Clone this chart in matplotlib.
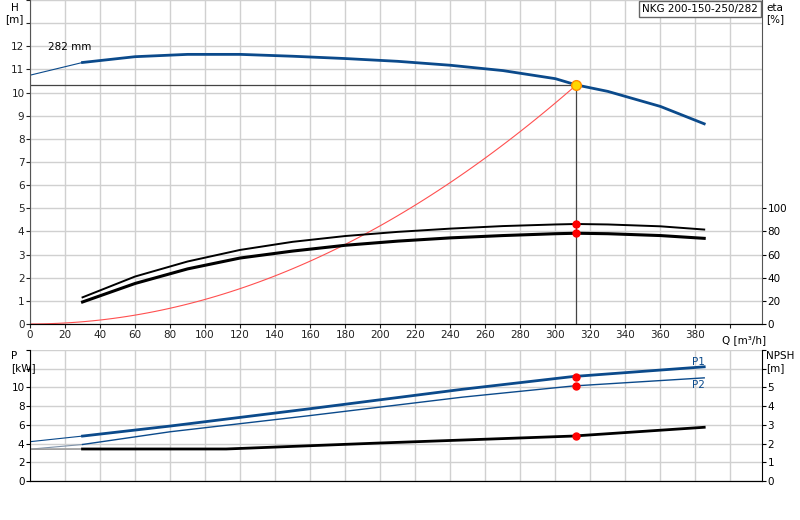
import numpy as np
import matplotlib
matplotlib.use("Agg")
import matplotlib.pyplot as plt

q_h = [30, 60, 90, 120, 150, 180, 210, 240, 270, 300, 312, 330, 360, 385]
h_vals = [11.3, 11.55, 11.65, 11.65, 11.57, 11.47, 11.35, 11.18, 10.95, 10.6, 10.33, 10.05, 9.4, 8.65]
h_ext_q = [0, 30]
h_ext = [10.75, 11.3]
eta_q = [30, 60, 90, 120, 150, 180, 210, 240, 270, 300, 312, 330, 360, 385]
eta_upper = [23, 41, 54, 64, 71, 76, 79.6, 82.4, 84.6, 86, 86.4, 86, 84.4, 81.6]
eta_lower = [19, 35, 47.6, 57, 63, 68, 71.6, 74.4, 76.4, 78, 78.4, 78, 76.4, 74]
op_q, op_h = 312, 10.33
op_eta1, op_eta2 = 86.4, 78.4
p_q = [30, 80, 159, 247, 310, 385]
p1 = [4.8, 5.87, 7.7, 9.8, 11.16, 12.2]
p2 = [3.9, 5.26, 6.97, 8.96, 10.15, 11.02]
p1_ext = [4.2, 4.8]
p2_ext = [3.4, 3.9]
npsh_q = [30, 112, 197, 310, 385]
npsh = [1.71, 1.71, 2.02, 2.4, 2.87]
op_p1, op_p2, op_npsh = 11.16, 10.15, 2.4

blue = "#0b4a8b"
fig = plt.figure(figsize=(8, 5.2), dpi=100)
fs = 7.5
ax = fig.add_axes([0.0375, 0.377, 0.915, 0.623])
ax.set_xlim(0, 418); ax.set_ylim(0, 14)
ax.set_xticks(range(0, 420, 20))
ax.set_xticklabels([str(v) if v <= 380 else "" for v in range(0, 420, 20)], fontsize=fs)
ax.set_yticks(range(0, 15))
ax.set_yticklabels([str(v) if v <= 12 else "" for v in range(0, 15)], fontsize=fs)
ax.grid(True, color="#d0d0d0", lw=1)
ax.set_axisbelow(True)
for s in ["top", "right"]:
    ax.spines[s].set_visible(False)
ax.spines["left"].set_color("#555"); ax.spines["bottom"].set_color("#555")
ax.tick_params(length=3, pad=1, colors="#222")
ax.plot(h_ext_q, h_ext, color=blue, lw=0.8)
ax.plot(q_h, h_vals, color=blue, lw=2)
qs = np.linspace(0, op_q, 80)
ax.plot(qs, op_h * (qs / op_q) ** 2, color="#ff5050", lw=0.8)
ax.plot([0, op_q], [op_h, op_h], color="#444", lw=0.9)
ax.plot([op_q, op_q], [0, op_h], color="#444", lw=0.9)
ax.plot(eta_q, np.array(eta_upper) / 20, color="black", lw=1.4)
ax.plot(eta_q, np.array(eta_lower) / 20, color="black", lw=2.2)
ax.plot([op_q, op_q], [op_eta1 / 20, op_eta2 / 20], "o", color="red", ms=5)
ax.plot(op_q, op_h, "o", color="#ffd700", mec="#ff8c00", ms=7, zorder=5)
ax.text(10, 11.85, "282 mm", fontsize=fs)
ax2 = ax.twinx()
ax2.set_ylim(0, 280)
ax2.set_yticks(range(0, 101, 20))
ax2.tick_params(labelsize=fs, length=3, pad=1)
for s in ["top", "left"]:
    ax2.spines[s].set_visible(False)
ax2.spines["right"].set_color("#555")
ax.text(1.005, -0.035, "Q [m³/h]", transform=ax.transAxes, ha="right", va="top", fontsize=fs)
fig.text(0.018, 0.995, "H\n[m]", ha="center", va="top", fontsize=fs)
fig.text(0.958, 0.995, "eta\n[%]", ha="left", va="top", fontsize=fs)
fig.text(0.947, 0.992, "NKG 200-150-250/282", ha="right", va="top", fontsize=fs,
         bbox=dict(facecolor="white", edgecolor="#666", boxstyle="square,pad=0.3"))

bx = fig.add_axes([0.0375, 0.075, 0.915, 0.252])
bx.set_xlim(0, 418); bx.set_ylim(0, 14)
bx.set_xticks(range(0, 420, 20)); bx.set_xticklabels([])
bx.tick_params(axis="x", length=0)
bx.set_yticks(range(0, 15, 2))
bx.set_yticklabels([str(v) if v <= 10 else "" for v in range(0, 15, 2)], fontsize=fs)
bx.tick_params(axis="y", length=3, pad=1)
bx.grid(True, color="#d0d0d0", lw=1); bx.set_axisbelow(True)
for s in ["top", "right"]:
    bx.spines[s].set_visible(False)
bx.plot([0, 30], p1_ext, color=blue, lw=0.8)
bx.plot([0, 30], p2_ext, color="#7f93aa", lw=0.8)
bx.plot(p_q, p1, color=blue, lw=2)
bx.plot(p_q, p2, color=blue, lw=1)
bx.plot([0, 30], [3.4, 3.42], color="#999", lw=1.2)
bx.plot(npsh_q, np.array(npsh) * 2, color="black", lw=2)
bx.plot([op_q] * 3, [op_p1, op_p2, op_npsh * 2], "o", color="red", ms=5)
bx.text(378, 12.4, "P1", color=blue, fontsize=fs)
bx.text(378, 9.9, "P2", color=blue, fontsize=fs)
bx2 = bx.twinx(); bx2.set_ylim(0, 7)
bx2.set_yticks(range(0, 8)); bx2.set_yticklabels([str(v) if v <= 5 else "" for v in range(8)], fontsize=fs)
bx2.tick_params(length=3, pad=1)
for s in ["top", "left"]:
    bx2.spines[s].set_visible(False)
fig.text(0.014, 0.325, "P\n[kW]", ha="left", va="top", fontsize=fs)
fig.text(0.958, 0.325, "NPSH\n[m]", ha="left", va="top", fontsize=fs)
fig.savefig("out.png", dpi=100)
